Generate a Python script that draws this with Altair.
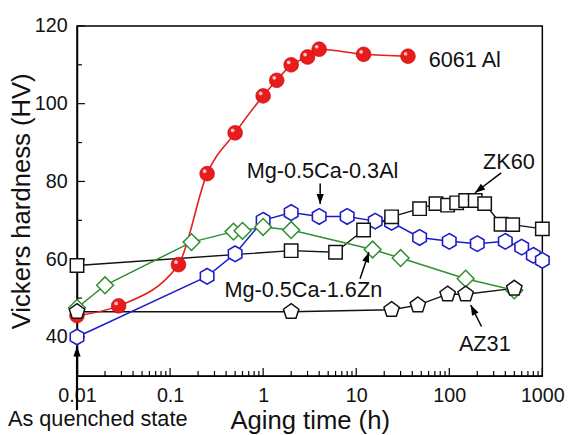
import altair as alt
import pandas as pd

FONT = "Liberation Sans"
W, H = 472, 355

# ---------------- data ----------------
t_al = [0.01, 0.028, 0.123, 0.25, 0.5, 1, 1.4, 2, 3, 4, 12, 36]
hv_al = [45.5, 48, 58.6, 82, 92.5, 102, 106, 110, 112, 114, 112.7, 112.2]

t_caal = [0.01, 0.25, 0.5, 1, 2, 4, 8, 16, 24, 48, 100, 200, 400, 600, 800, 1000]
hv_caal = [40, 55.6, 61.4, 70, 72, 71, 71, 69.8, 69.5, 65.6, 64.6, 64, 64.6, 63.1, 61, 59.7]

t_cazn = [0.01, 0.02, 0.17, 0.48, 0.6, 1, 2, 15, 30, 150, 500]
hv_cazn = [47.5, 53.3, 64.4, 67.1, 67.3, 68.3, 67.5, 62.5, 60.3, 55, 52]

t_zk = [0.01, 2, 6, 12, 24, 48, 72, 96, 120, 150, 190, 240, 360, 480, 1000]
hv_zk = [58.4, 62.2, 61.8, 67.5, 70.9, 73, 74.3, 73.9, 74.5, 75.1, 75.1, 74.3, 69, 68.9, 67.8]

t_az = [0.01, 2, 24, 46, 96, 150, 500]
hv_az = [46.5, 46.5, 47, 48.2, 51, 51, 52.5]

x_major = [0.01, 0.1, 1, 10, 100, 1000]
x_minor = [k * 10.0 ** e for e in range(-2, 3) for k in range(2, 10)]
y_major = [40, 60, 80, 100, 120]
y_minor = [50, 70, 90, 110]

# annotations (data coordinates)
lab_text = ["6061 Al", "Mg-0.5Ca-0.3Al", "ZK60", "Mg-0.5Ca-1.6Zn", "AZ31", "As quenched state"]
lab_t = [60, 4.35, 437, 2.7, 241, 0.0167]
lab_hv = [111.3, 82.6, 85.1, 52.0, 38.1, 18.8]
lab_align = ["left", "center", "center", "center", "center", "center"]

arr_t1 = [4.1, 361, 11, 222, 0.01]
arr_hv1 = [79.5, 82.2, 55.0, 42.7, 21.2]
arr_t2 = [4.1, 189, 13.7, 170, 0.01]
arr_hv2 = [74.2, 77.1, 61.8, 48.2, 37.6]
arr_angle = [180, 233, 19, 333, 0]
arr_width = [1.5, 1.5, 1.5, 1.5, 2.2]

# ---------------- scales / axes ----------------
xs = alt.Scale(type="log", domain=[0.01, 1000], nice=False)
ys = alt.Scale(domain=[30, 120], nice=False, zero=False)

XA = alt.Axis(values=x_major, format="~g", ticks=False, tickSize=0, grid=False,
              labelFont=FONT, labelFontSize=20, labelColor="#111", labelPadding=10,
              labelFlush=False, domainColor="black", domainWidth=1.5,
              title="Aging time (h)", titleFont=FONT, titleFontSize=26,
              titleFontWeight="normal", titleColor="#111", titlePadding=2)
YA = alt.Axis(values=y_major, format="d", ticks=False, tickSize=0, grid=False,
              labelFont=FONT, labelFontSize=20, labelColor="#111", labelPadding=10,
              domainColor="black", domainWidth=1.5,
              title="Vickers hardness (HV)", titleFont=FONT, titleFontSize=26,
              titleFontWeight="normal", titleColor="#111", titlePadding=0)


def X(f="t"):
    return alt.X(f"{f}:Q", scale=xs, axis=XA, title="Aging time (h)")


def Y(f="hv"):
    return alt.Y(f"{f}:Q", scale=ys, axis=YA, title="Vickers hardness (HV)")


def df(t, hv):
    return pd.DataFrame({"t": t, "hv": hv})


layers = []

# inward ticks
xt = pd.DataFrame({"t": x_major + x_minor,
                   "len": [8] * len(x_major) + [5] * len(x_minor)})
yt = pd.DataFrame({"hv": y_major + y_minor,
                   "len": [8] * len(y_major) + [5] * len(y_minor)})
for L in (8, 5):
    layers.append(
        alt.Chart(xt[xt["len"] == L]).mark_rule(color="black", strokeWidth=1.2).encode(
            x=X(), y=alt.value(H), y2=alt.value(H - L)))
    layers.append(
        alt.Chart(yt[yt["len"] == L]).mark_rule(color="black", strokeWidth=1.2).encode(
            y=Y(), x=alt.value(0), x2=alt.value(L)))

RED, BLUE, GREEN, BLK = "#e81c1c", "#1c1cc8", "#2f8f2f", "#111111"
HEX = "M0,-1 L0.866,-0.5 L0.866,0.5 L0,1 L-0.866,0.5 L-0.866,-0.5 Z"
PENT = "M0,-1 L0.951,-0.309 L0.588,0.809 L-0.588,0.809 L-0.951,-0.309 Z"

# lines
layers.append(alt.Chart(df(t_zk, hv_zk)).mark_line(color=BLK, strokeWidth=1.4).encode(x=X(), y=Y()))
layers.append(alt.Chart(df(t_az, hv_az)).mark_line(color=BLK, strokeWidth=1.4).encode(x=X(), y=Y()))
layers.append(alt.Chart(df(t_cazn, hv_cazn)).mark_line(color=GREEN, strokeWidth=1.5).encode(x=X(), y=Y()))
layers.append(alt.Chart(df(t_caal, hv_caal)).mark_line(color=BLUE, strokeWidth=1.5).encode(x=X(), y=Y()))
layers.append(alt.Chart(df(t_al, hv_al)).mark_line(color=RED, strokeWidth=1.6,
                                                    interpolate="monotone").encode(x=X(), y=Y()))

# markers
layers.append(alt.Chart(df(t_al, hv_al)).mark_point(
    shape="circle", size=225, filled=True, fill=RED, stroke="#c40000", strokeWidth=0.6,
    opacity=1).encode(x=X(), y=Y()))
layers.append(alt.Chart(df(t_al, hv_al)).mark_point(
    shape="circle", size=14, filled=True, fill="#ffd6d6", opacity=0.9,
    xOffset=-2.5, yOffset=-2.5).encode(x=X(), y=Y()))
layers.append(alt.Chart(df(t_caal, hv_caal)).mark_point(
    shape=HEX, size=250, filled=True, fill="white", stroke=BLUE, strokeWidth=1.6,
    opacity=1).encode(x=X(), y=Y()))
layers.append(alt.Chart(df(t_cazn, hv_cazn)).mark_point(
    shape="diamond", size=290, filled=True, fill="white", stroke=GREEN, strokeWidth=1.5,
    opacity=1).encode(x=X(), y=Y()))
layers.append(alt.Chart(df(t_zk, hv_zk)).mark_point(
    shape="square", size=185, filled=True, fill="white", stroke=BLK, strokeWidth=1.5,
    opacity=1).encode(x=X(), y=Y()))
layers.append(alt.Chart(df(t_az, hv_az)).mark_point(
    shape=PENT, size=270, filled=True, fill="white", stroke=BLK, strokeWidth=1.5,
    opacity=1).encode(x=X(), y=Y()))

# arrows
arr = pd.DataFrame({"t": arr_t1, "hv": arr_hv1, "t2": arr_t2, "hv2": arr_hv2,
                    "ang": arr_angle, "w": arr_width})
layers.append(alt.Chart(arr).mark_rule(color="black").encode(
    x=X(), y=Y(), x2="t2:Q", y2="hv2:Q",
    strokeWidth=alt.StrokeWidth("w:Q", scale=None)))
layers.append(alt.Chart(arr).mark_point(
    shape="M0,0 L0.36,1 L-0.36,1 Z", size=420, filled=True, fill="black", opacity=1).encode(
    x=X("t2"), y=Y("hv2"), angle=alt.Angle("ang:Q", scale=None)))

# labels
lab = pd.DataFrame({"t": lab_t, "hv": lab_hv, "txt": lab_text, "al": lab_align})
for al in ("left", "center"):
    layers.append(alt.Chart(lab[lab["al"] == al]).mark_text(
        font=FONT, fontSize=22, color="#111", align=al, baseline="middle").encode(
        x=X(), y=Y(), text="txt:N"))

chart = alt.layer(*layers).properties(
    width=W, height=H,
    background="white",
    autosize=alt.AutoSizeParams(type="none"),
    padding={"left": 70, "top": 15, "right": 24, "bottom": 70},
).configure_view(stroke="black", strokeWidth=1.5)

chart.save("out.html", embed_options={"renderer": "svg", "actions": False})
